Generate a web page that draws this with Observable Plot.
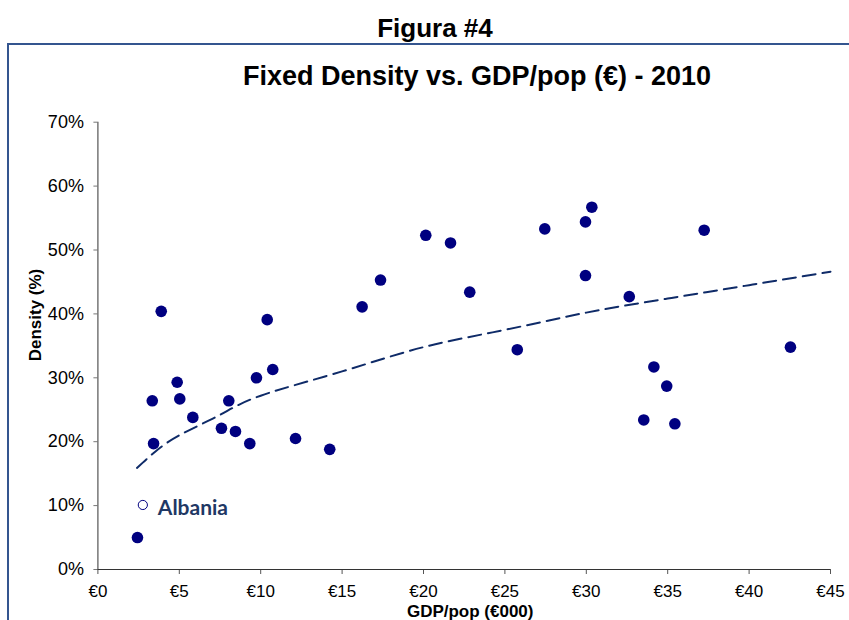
<!DOCTYPE html>
<html>
<head>
<meta charset="utf-8">
<script src="https://cdn.jsdelivr.net/npm/d3@7"></script>
<script src="https://cdn.jsdelivr.net/npm/@observablehq/plot@0.6"></script>
<style>
  html, body { margin: 0; padding: 0; background: #fff; }
  #wrap { position: relative; width: 849px; height: 620px; overflow: hidden; font-family: "Liberation Sans", Arial, sans-serif; }
  #frame { position: absolute; left: 7px; top: 43px; width: 900px; height: 700px; border: 2px solid #34558f; box-sizing: border-box; }
  .t { position: absolute; font-weight: bold; color: #000; white-space: nowrap; transform: translate(-50%, -50%); line-height: 1; }
  #fig { left: 435px; top: 28px; font-size: 26px; }
  #title { left: 477px; top: 76px; font-size: 27px; }
  #ylab { left: 35px; top: 315px; font-size: 17px; transform: translate(-50%, -50%) rotate(-90deg); }
  #chart { position: absolute; left: 0; top: 0; }
</style>
</head>
<body>
<div id="wrap">
  <div id="frame"></div>
  <div class="t" id="fig">Figura #4</div>
  <div class="t" id="title">Fixed Density vs. GDP/pop (€) - 2010</div>
  <div id="chart"></div>
  <div class="t" id="ylab">Density (%)</div>
</div>
<script>
// Countries: GDP per capita (€000) and fixed broadband density (%)
const gdp = [2.43, 3.34, 3.42, 3.89, 4.87, 5.03, 5.83, 7.59, 8.04, 8.45, 9.33, 9.74, 10.40, 10.74, 12.14, 14.24, 16.23, 17.36, 20.14, 21.66, 22.84, 25.76, 27.45, 29.95, 30.34, 29.95, 32.64, 34.15, 34.94, 33.53, 35.44, 37.24, 42.54];
const density = [5.0, 26.4, 19.7, 40.4, 29.3, 26.7, 23.8, 22.1, 26.4, 21.6, 19.7, 30.0, 39.1, 31.3, 20.5, 18.8, 41.1, 45.3, 52.3, 51.1, 43.4, 34.4, 53.3, 54.4, 56.7, 46.0, 42.7, 31.7, 28.7, 23.4, 22.8, 53.1, 34.8];

// Highlighted country
const albaniaName = ["Albania"];
const albaniaGdp = [2.76];
const albaniaDensity = [10.1];

// Trend line
const trendGdp = [2.4, 3.5, 5, 7.5, 10, 15, 20, 25, 30, 35, 40, 45];
const trendDensity = [15.9, 18.4, 21.0, 24.2, 27.2, 31.0, 34.8, 37.5, 40.2, 42.4, 44.5, 46.6];

// Axis ticks
const xTicks = [0, 5, 10, 15, 20, 25, 30, 35, 40, 45];
const yTicks = [0, 10, 20, 30, 40, 50, 60, 70];

const points = gdp.map((g, i) => ({gdp: g, density: density[i]}));
const albania = albaniaName.map((n, i) => ({name: n, gdp: albaniaGdp[i], density: albaniaDensity[i]}));
const trend = trendGdp.map((g, i) => ({gdp: g, density: trendDensity[i]}));

const chart = Plot.plot({
  width: 849,
  height: 620,
  marginLeft: 97.4,
  marginRight: 19,
  marginTop: 121.7,
  marginBottom: 51,
  style: {fontFamily: "'Liberation Sans', Arial, sans-serif", fontSize: "18px", color: "#000", background: "transparent"},
  x: {domain: [0, 45]},
  y: {domain: [0, 70]},
  marks: [
    Plot.axisY({ticks: yTicks, tickSize: 4, tickPadding: 10, tickFormat: d => d + "%", label: null, stroke: "#777", fontSize: 18}),
    Plot.axisX({ticks: xTicks, tickSize: 5, tickPadding: 10, tickFormat: d => "€" + d, label: null, stroke: "#555", fontSize: 17}),
    Plot.ruleX([0], {stroke: "#555", strokeWidth: 1.2}),
    Plot.ruleY([0], {stroke: "#333", strokeWidth: 1.2}),
    Plot.line(trend, {x: "gdp", y: "density", curve: "natural", stroke: "#0f2b68", strokeWidth: 2, strokeDasharray: "13,7"}),
    Plot.dot(points, {x: "gdp", y: "density", r: 5.8, fill: "#000080", stroke: "none"}),
    Plot.dot(albania, {x: "gdp", y: "density", r: 4.6, fill: "#fff", stroke: "#000080", strokeWidth: 1}),
    Plot.text(albania, {x: "gdp", y: "density", text: "name", dx: 15, dy: 3, textAnchor: "start", fill: "#1f3864", fontWeight: "bold", fontSize: 21, fontFamily: "Lato, 'Open Sans', sans-serif"}),
    Plot.text(["GDP/pop (€000)"], {frameAnchor: "bottom", dx: 6, dy: 42, lineAnchor: "middle", text: d => d, fontWeight: "bold", fontSize: 17, fill: "#000"})
  ]
});
document.getElementById("chart").appendChild(chart);
</script>
</body>
</html>
